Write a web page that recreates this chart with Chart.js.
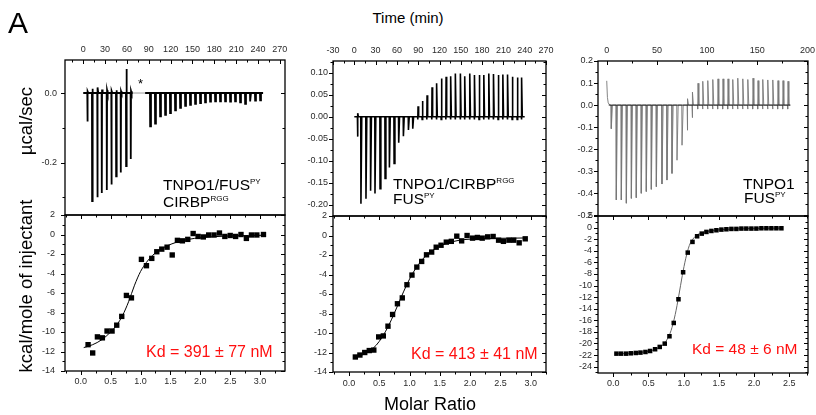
<!DOCTYPE html>
<html><head><meta charset="utf-8">
<script src="https://cdn.jsdelivr.net/npm/chart.js@4.4.0/dist/chart.umd.min.js"></script>
<style>
html,body{margin:0;padding:0;background:#fff;}
body{width:816px;height:415px;position:relative;overflow:hidden;font-family:"Liberation Sans",Arial,sans-serif;}
canvas{position:absolute;}
.t{position:absolute;white-space:nowrap;line-height:1;color:#000;z-index:5;}
.s{font-size:8px;position:relative;top:-6px;}
.rot{transform:translate(-50%,-50%) rotate(-90deg);}
.red{color:#ff1010;}
</style></head><body>
<canvas id="c1t"></canvas><canvas id="c1b"></canvas>
<canvas id="c2t"></canvas><canvas id="c2b"></canvas>
<canvas id="c3t"></canvas><canvas id="c3b"></canvas>

<div class="t" style="left:8px;top:8px;font-size:30px;">A</div>
<div class="t" style="left:408px;top:10px;font-size:15px;transform:translateX(-50%);">Time (min)</div>
<div class="t rot" style="left:26px;top:121px;font-size:18.5px;">µcal/sec</div>
<div class="t rot" style="left:26px;top:286px;font-size:18.5px;">kcal/mole of injectant</div>
<div class="t" style="left:430px;top:395px;font-size:18px;transform:translateX(-50%);">Molar Ratio</div>
<div class="t" style="left:138px;top:77px;font-size:13px;">*</div>

<div class="t" style="left:163px;top:177px;font-size:15.5px;">TNPO1/FUS<span class="s">PY</span></div>
<div class="t" style="left:163px;top:193.5px;font-size:15.5px;">CIRBP<span class="s">RGG</span></div>
<div class="t" style="left:393px;top:176px;font-size:15.5px;">TNPO1/CIRBP<span class="s">RGG</span></div>
<div class="t" style="left:393px;top:191px;font-size:15.5px;">FUS<span class="s">PY</span></div>
<div class="t" style="left:743px;top:176px;font-size:15.5px;">TNPO1</div>
<div class="t" style="left:744px;top:190px;font-size:15.5px;">FUS<span class="s">PY</span></div>

<div class="t red" style="left:146px;top:344px;font-size:16px;">Kd = 391 ± 77 nM</div>
<div class="t red" style="left:411px;top:345.5px;font-size:16px;">Kd = 413 ± 41 nM</div>
<div class="t red" style="left:692px;top:340.5px;font-size:15.5px;">Kd = 48 ± 6 nM</div>

<script>
// ================= DATA =================
// --- Panel 1 : TNPO1/FUS-PY titrated with CIRBP-RGG ---
const p1InjTime = [5.5, 11.9, 19.2, 25.2, 32.1, 38.5, 44.9, 51.3, 58.6, 65.0,
  91.6, 98.4, 105.3, 112.2, 119.0, 125.9, 132.8, 139.7, 146.5, 153.4, 160.3, 167.1,
  174.0, 180.9, 187.7, 194.6, 201.5, 208.3, 215.2, 222.1, 229.0, 235.8, 242.7];
const p1Down = [-0.082, -0.311, -0.300, -0.288, -0.279, -0.263, -0.240, -0.229, -0.210, -0.190,
  -0.096, -0.088, -0.067, -0.0625, -0.058, -0.050, -0.043, -0.037, -0.034, -0.031, -0.029, -0.027,
  -0.025, -0.024, -0.024, -0.024, -0.025, -0.024, -0.027, -0.031, -0.024, -0.022, -0.021];
const p1Up = [0.005, 0.012, 0.016, 0.010, 0.008, 0.006, 0.008, 0.005, 0.069, 0.006,
  0, 0, 0, 0, 0, 0, 0, 0, 0, 0, 0, 0, 0, 0, 0, 0, 0, 0, 0, 0, 0, 0, 0];
const p1Segments = [[0, 68], [85, 247]];
const p1Baseline = [0, 247];
const p1Ratio = [0.123, 0.200, 0.279, 0.362, 0.440, 0.524, 0.602, 0.686, 0.764, 0.848, 1.015, 1.099,
  1.188, 1.272, 1.355, 1.444, 1.530, 1.617, 1.700, 1.790, 1.880, 1.963, 2.050, 2.140, 2.230, 2.320,
  2.410, 2.500, 2.590, 2.680, 2.770, 2.855, 2.945, 3.056];
const p1Heat = [-11.3, -12.15, -10.5, -10.6, -9.9, -9.9, -9.3, -8.4, -6.25, -6.5, -2.55, -3.2,
  -2.45, -1.77, -1.5, -1.3, -2.1, -0.6, -0.65, -0.5, 0.1, -0.2, -0.25, -0.05, -0.05, 0.15,
  -0.2, -0.1, -0.2, 0.0, -0.4, -0.05, -0.05, 0.0];
const p1FitX = [0.05, 0.2, 0.35, 0.5, 0.6, 0.7, 0.8, 0.9, 1.0, 1.1, 1.2, 1.3, 1.45, 1.6, 1.8, 2.0, 2.4, 2.8, 3.06];
const p1FitY = [-11.6, -11.3, -10.8, -10.0, -9.3, -8.3, -6.9, -5.2, -3.8, -2.85, -2.15, -1.65, -1.15, -0.8, -0.5, -0.33, -0.17, -0.1, -0.08];

// --- Panel 2 : TNPO1/CIRBP-RGG titrated with FUS-PY ---
const p2InjTime = [4.4, 9.1, 16.2, 22.7, 28.9, 36.0, 43.1, 49.2, 55.8, 62.3, 68.9, 76.0, 82.1,
  89.2, 95.3, 101.9, 108.9, 115.5, 122.1, 128.7, 135.3, 141.9, 149.0, 155.1, 162.2, 168.8,
  175.4, 182.0, 189.0, 195.6, 202.2, 208.8, 215.4, 222.0, 229.1, 235.2];
const p2Down = [-0.045, -0.197, -0.186, -0.168, -0.174, -0.163, -0.140, -0.115, -0.106, -0.059, -0.044, -0.030, -0.027,
  -0.006, -0.006, -0.006, -0.006, -0.006, -0.006, -0.006, -0.006, -0.006, -0.006, -0.006, -0.006, -0.006,
  -0.006, -0.006, -0.006, -0.006, -0.006, -0.006, -0.006, -0.006, -0.006, -0.006];
const p2Up = [0.008, 0, 0, 0, 0, 0, 0, 0, 0, 0, 0, 0, 0,
  0.024, 0.036, 0.049, 0.067, 0.076, 0.087, 0.091, 0.092, 0.098, 0.098, 0.092, 0.098, 0.095,
  0.095, 0.095, 0.098, 0.097, 0.095, 0.096, 0.096, 0.091, 0.089, 0.089];
const p2Segments = [[0, 240]];
const p2Ratio = [0.105, 0.18, 0.26, 0.335, 0.41, 0.49, 0.567, 0.644, 0.72, 0.80, 0.88, 0.957, 1.04, 1.12,
  1.2, 1.28, 1.365, 1.44, 1.52, 1.607, 1.69, 1.78, 1.86, 1.95, 2.04, 2.12, 2.2, 2.29, 2.38, 2.47,
  2.55, 2.64, 2.72, 2.81, 2.91];
const p2Heat = [-12.46, -12.26, -12.0, -11.8, -11.75, -10.4, -10.3, -9.3, -8.1, -7.0, -6.4, -5.05, -4.06, -3.24,
  -2.66, -1.98, -1.7, -1.2, -1.0, -0.68, -0.6, -0.07, -0.55, 0.0, -0.27, -0.2, -0.27, -0.14, -0.1, -0.48,
  -0.6, -0.48, -0.48, -0.75, -0.34];
const p2FitX = [0.07, 0.2, 0.35, 0.45, 0.55, 0.65, 0.75, 0.85, 0.95, 1.05, 1.15, 1.25, 1.4, 1.55, 1.7, 1.9, 2.2, 2.6, 2.93];
const p2FitY = [-12.55, -12.3, -11.8, -11.25, -10.4, -9.3, -7.95, -6.5, -5.1, -3.9, -2.95, -2.2, -1.45, -0.95, -0.65, -0.42, -0.32, -0.28, -0.25];

// --- Panel 3 : TNPO1 titrated with FUS-PY ---
const p3InjTime = [4.3, 9.3, 14.3, 19.3, 24.3, 29.2, 34.2, 39.2, 44.2, 49.2, 54.8, 59.8, 64.8, 69.8,
  74.8, 80.1, 85.0, 90.4, 95.3, 100.3, 105.3, 110.3, 115.3, 120.3, 125.2, 130.2, 135.2, 140.2,
  145.2, 150.2, 155.1, 160.1, 165.1, 170.1, 175.1, 180.1];
const p3Down = [-0.107, -0.43, -0.43, -0.445, -0.423, -0.42, -0.40, -0.392, -0.382, -0.37, -0.358, -0.34,
  -0.31, -0.25, -0.182, -0.114, -0.057, -0.018, -0.018, -0.018, -0.018, -0.018, -0.018, -0.018,
  -0.018, -0.018, -0.018, -0.018, -0.018, -0.018, -0.018, -0.018, -0.018, -0.018, -0.018, -0.018];
const p3Up = [0, 0, 0, 0, 0, 0, 0, 0, 0, 0, 0, 0, 0, 0, 0, 0.029, 0.059, 0.099, 0.108, 0.111, 0.116,
  0.119, 0.119, 0.119, 0.116, 0.122, 0.119, 0.116, 0.122, 0.111, 0.116, 0.114, 0.114, 0.111, 0.111, 0.108];
const p3LeadX = [0, 0.7, 1.5, 3];
const p3LeadY = [0.11, 0.035, 0.01, 0];
const p3Segments = [[0, 183]];
const p3Baseline = [2, 183];
const p3Ratio = [0.045, 0.111, 0.182, 0.249, 0.32, 0.386, 0.457, 0.523, 0.594, 0.66, 0.731, 0.798, 0.859,
  0.926, 0.992, 1.058, 1.125, 1.191, 1.257, 1.323, 1.394, 1.465, 1.536, 1.607, 1.678, 1.749, 1.82,
  1.89, 1.962, 2.033, 2.104, 2.175, 2.246, 2.317, 2.388];
const p3Heat = [-21.76, -21.76, -21.76, -21.7, -21.64, -21.58, -21.47, -21.3, -21.0, -20.6, -20.03, -18.76,
  -16.46, -12.37, -7.71, -4.32, -2.47, -1.5, -1.04, -0.75, -0.58, -0.46, -0.35, -0.29, -0.23, -0.23,
  -0.17, -0.17, -0.17, -0.17, -0.12, -0.12, -0.12, -0.12, -0.12];
const p3FitX = [0.02, 0.3, 0.5, 0.6, 0.7, 0.76, 0.82, 0.88, 0.93, 0.98, 1.03, 1.08, 1.13, 1.2, 1.3, 1.45, 1.7, 2.0, 2.4];
const p3FitY = [-21.8, -21.65, -21.35, -21.0, -20.3, -19.4, -17.8, -15.0, -11.8, -8.3, -5.3, -3.1, -2.0, -1.2, -0.75, -0.45, -0.25, -0.14, -0.1];

// --- tick values / labels ---
const time1Ticks = [0, 30, 60, 90, 120, 150, 180, 210, 240, 270];
const time1Labels = ["0", "30", "60", "90", "120", "150", "180", "210", "240", "270"];
const time2Ticks = [-30, 0, 30, 60, 90, 120, 150, 180, 210, 240, 270];
const time2Labels = ["-30", "0", "30", "60", "90", "120", "150", "180", "210", "240", "270"];
const time3Ticks = [0, 50, 100, 150, 200];
const time3Labels = ["0", "50", "100", "150", "200"];
const power1Ticks = [-0.2, 0.0];
const power1Labels = ["-0.2", "0.0"];
const power2Ticks = [-0.20, -0.15, -0.10, -0.05, 0.00, 0.05, 0.10];
const power2Labels = ["-0.20", "-0.15", "-0.10", "-0.05", "0.00", "0.05", "0.10"];
const power3Ticks = [-0.5, -0.4, -0.3, -0.2, -0.1, 0.0, 0.1, 0.2];
const power3Labels = ["-0.5", "-0.4", "-0.3", "-0.2", "-0.1", "0.0", "0.1", "0.2"];
const heat12Ticks = [-14, -12, -10, -8, -6, -4, -2, 0, 2];
const heat12Labels = ["-14", "-12", "-10", "-8", "-6", "-4", "-2", "0", "2"];
const heat3Ticks = [-24, -22, -20, -18, -16, -14, -12, -10, -8, -6, -4, -2, 0, 2];
const heat3Labels = ["-24", "-22", "-20", "-18", "-16", "-14", "-12", "-10", "-8", "-6", "-4", "-2", "0", "2"];
const ratio12Ticks = [0, 0.5, 1.0, 1.5, 2.0, 2.5, 3.0];
const ratio12Labels = ["0.0", "0.5", "1.0", "1.5", "2.0", "2.5", "3.0"];
const ratio3Ticks = [0, 0.5, 1.0, 1.5, 2.0, 2.5];
const ratio3Labels = ["0.0", "0.5", "1.0", "1.5", "2.0", "2.5"];

// ================= BUILDERS =================
Chart.defaults.font.family = '"Liberation Sans", Arial, sans-serif';

function zip(xs, ys) { return xs.map((x, i) => ({x, y: ys[i]})); }

function buildTrace(times, downs, ups, segs, lead) {
  const pts = [];
  segs.forEach(([s, e], si) => {
    if (si > 0) pts.push({x: s - 0.01, y: null});
    if (lead && si === 0) lead[0].forEach((x, i) => pts.push({x, y: lead[1][i]}));
    else pts.push({x: s, y: 0});
    times.forEach((t, i) => {
      if (t < s || t > e) return;
      pts.push({x: t, y: 0}, {x: t + 0.25, y: downs[i]});
      if (ups[i]) pts.push({x: t + 0.6, y: ups[i]});
      pts.push({x: t + 1.4, y: 0});
    });
    pts.push({x: e, y: 0});
  });
  return pts;
}

function minorTicks(ax) {
  const out = [], s = ax.minor;
  for (let k = Math.ceil(ax.min / s - 1e-9); k * s <= ax.max + 1e-9; k++) {
    const v = k * s;
    if (!ax.ticks.some(t => Math.abs(t - v) < s / 10)) out.push(v);
  }
  return out;
}

const frameTicks = {
  id: 'frameTicks',
  afterDraw(chart, args, o) {
    const {ctx, chartArea: a} = chart;
    ctx.save();
    ctx.strokeStyle = '#000';
    ctx.lineWidth = 1;
    (o.sides || []).forEach(sd => {
      const sc = chart.scales[sd.scale];
      const ax = o.axes[sd.scale];
      const draw = (v, len) => {
        const p = Math.round(sc.getPixelForValue(v)) + 0.5;
        ctx.beginPath();
        if (sd.side === 'top') { ctx.moveTo(p, a.top); ctx.lineTo(p, a.top + sd.dir * len); }
        else if (sd.side === 'bottom') { ctx.moveTo(p, a.bottom); ctx.lineTo(p, a.bottom - sd.dir * len); }
        else if (sd.side === 'left') { ctx.moveTo(a.left, p); ctx.lineTo(a.left + sd.dir * len, p); }
        else { ctx.moveTo(a.right, p); ctx.lineTo(a.right - sd.dir * len, p); }
        ctx.stroke();
      };
      ax.ticks.forEach(v => draw(v, 4));
      minorTicks(ax).forEach(v => draw(v, 2.5));
    });
    ctx.lineWidth = 1.3;
    ctx.strokeRect(a.left, a.top, a.right - a.left, a.bottom - a.top);
    ctx.restore();
  }
};

function scaleCfg(ax, horiz, size) {
  return {
    type: 'linear', position: ax.pos, min: ax.min, max: ax.max, bounds: 'data',
    grid: {display: false, drawTicks: false}, border: {display: false},
    ticks: {autoSkip: false, maxRotation: 0, minRotation: 0, padding: ax.pad, color: '#2a2a2a',
      font: {size: 9}, callback: (v, i) => ax.labels[i]},
    afterBuildTicks: s => { s.ticks = ax.ticks.map(v => ({value: v})); },
    afterFit: s => {
      if (horiz) s.height = size; else s.width = size;
      s.paddingLeft = 0; s.paddingRight = 0; s.paddingTop = 0; s.paddingBottom = 0;
    }
  };
}

function makeChart(id, box, xs, ys, datasets, sides) {
  const cv = document.getElementById(id);
  const padL = 44, padR = 8, xH = 28;
  const xTop = xs.pos === 'top';
  const padT = xTop ? 0 : 8, padB = xTop ? 8 : 0;
  const left = box.L - padL;
  const top = xTop ? box.T - xH : box.T - 8;
  const width = box.R - box.L + padL + padR;
  const height = (box.B - box.T) + xH + 8;
  cv.style.left = left + 'px'; cv.style.top = top + 'px';
  cv.width = width; cv.height = height;
  cv.style.width = width + 'px'; cv.style.height = height + 'px';
  new Chart(cv, {
    type: 'scatter',
    data: {datasets},
    options: {
      responsive: false, animation: false, devicePixelRatio: 1, events: [],
      layout: {padding: {left: 0, right: padR, top: padT, bottom: padB}},
      scales: {x: scaleCfg(xs, true, xH), y: scaleCfg(ys, false, padL)},
      plugins: {legend: {display: false}, tooltip: {enabled: false},
        frameTicks: {axes: {x: xs, y: ys}, sides}}
    },
    plugins: [frameTicks]
  });
}

const topSides = [{side: 'top', scale: 'x', dir: 1}, {side: 'left', scale: 'y', dir: -1}, {side: 'right', scale: 'y', dir: 1}];
const botSides = [{side: 'bottom', scale: 'x', dir: -1}, {side: 'top', scale: 'x', dir: 1},
  {side: 'left', scale: 'y', dir: -1}, {side: 'right', scale: 'y', dir: 1}];

function lineDs(data, color, w, extra) {
  return Object.assign({data, showLine: true, pointRadius: 0, borderColor: color, borderWidth: w, spanGaps: false}, extra || {});
}
function pointDs(data, r) {
  return {data, showLine: false, pointStyle: 'rect', pointRadius: r, backgroundColor: '#000', borderColor: '#000', borderWidth: 0, order: 0};
}

// ----- Panel 1 -----
makeChart('c1t', {L: 65, R: 285, T: 60, B: 215},
  {pos: 'top', min: -25.1, max: 277.1, ticks: time1Ticks, labels: time1Labels, minor: 15, pad: 5},
  {pos: 'left', min: -0.351, max: 0.095, ticks: power1Ticks, labels: power1Labels, minor: 0.1, pad: 8},
  [lineDs(buildTrace(p1InjTime, p1Down, p1Up, p1Segments), '#000', 1.8, {order: 0}),
   lineDs(zip(p1Baseline, [0, 0]), '#999', 1, {order: 1})],
  topSides);
makeChart('c1b', {L: 65, R: 285, T: 215, B: 371},
  {pos: 'bottom', min: -0.263, max: 3.416, ticks: ratio12Ticks, labels: ratio12Labels, minor: 0.25, pad: 5},
  {pos: 'left', min: -14, max: 2, ticks: heat12Ticks, labels: heat12Labels, minor: 1, pad: 10},
  [pointDs(zip(p1Ratio, p1Heat), 3.8),
   lineDs(zip(p1FitX, p1FitY), '#000', 1, {cubicInterpolationMode: 'monotone', order: 1})],
  botSides);

// ----- Panel 2 -----
makeChart('c2t', {L: 333, R: 546, T: 61, B: 216},
  {pos: 'top', min: -30, max: 270, ticks: time2Ticks, labels: time2Labels, minor: 15, pad: 5},
  {pos: 'left', min: -0.225, max: 0.1265, ticks: power2Ticks, labels: power2Labels, minor: 0.025, pad: 5},
  [lineDs(buildTrace(p2InjTime, p2Down, p2Up, p2Segments), '#000', 1.6)],
  topSides);
makeChart('c2b', {L: 333, R: 546, T: 216, B: 372},
  {pos: 'bottom', min: -0.264, max: 3.253, ticks: ratio12Ticks, labels: ratio12Labels, minor: 0.25, pad: 6},
  {pos: 'left', min: -14, max: 2, ticks: heat12Ticks, labels: heat12Labels, minor: 1, pad: 6},
  [pointDs(zip(p2Ratio, p2Heat), 3.8),
   lineDs(zip(p2FitX, p2FitY), '#000', 1, {cubicInterpolationMode: 'monotone', order: 1})],
  botSides);

// ----- Panel 3 -----
makeChart('c3t', {L: 598, R: 808, T: 61, B: 216},
  {pos: 'top', min: -8.7, max: 200.6, ticks: time3Ticks, labels: time3Labels, minor: 25, pad: 5.5},
  {pos: 'left', min: -0.503, max: 0.2, ticks: power3Ticks, labels: power3Labels, minor: 0.05, pad: 5},
  [lineDs(zip(p3Baseline, [0, 0]), '#000', 0.8, {order: 0}),
   lineDs(buildTrace(p3InjTime, p3Down, p3Up, p3Segments, [p3LeadX, p3LeadY]), '#777', 0.9, {order: 1})],
  topSides);
makeChart('c3b', {L: 598, R: 808, T: 216, B: 373},
  {pos: 'bottom', min: -0.217, max: 2.766, ticks: ratio3Ticks, labels: ratio3Labels, minor: 0.25, pad: 5},
  {pos: 'left', min: -25.1, max: 2, ticks: heat3Ticks, labels: heat3Labels, minor: 1, pad: 6},
  [pointDs(zip(p3Ratio, p3Heat), 3.2),
   lineDs(zip(p3FitX, p3FitY), '#666', 1, {cubicInterpolationMode: 'monotone', order: 1})],
  botSides);
</script>
</body></html>
